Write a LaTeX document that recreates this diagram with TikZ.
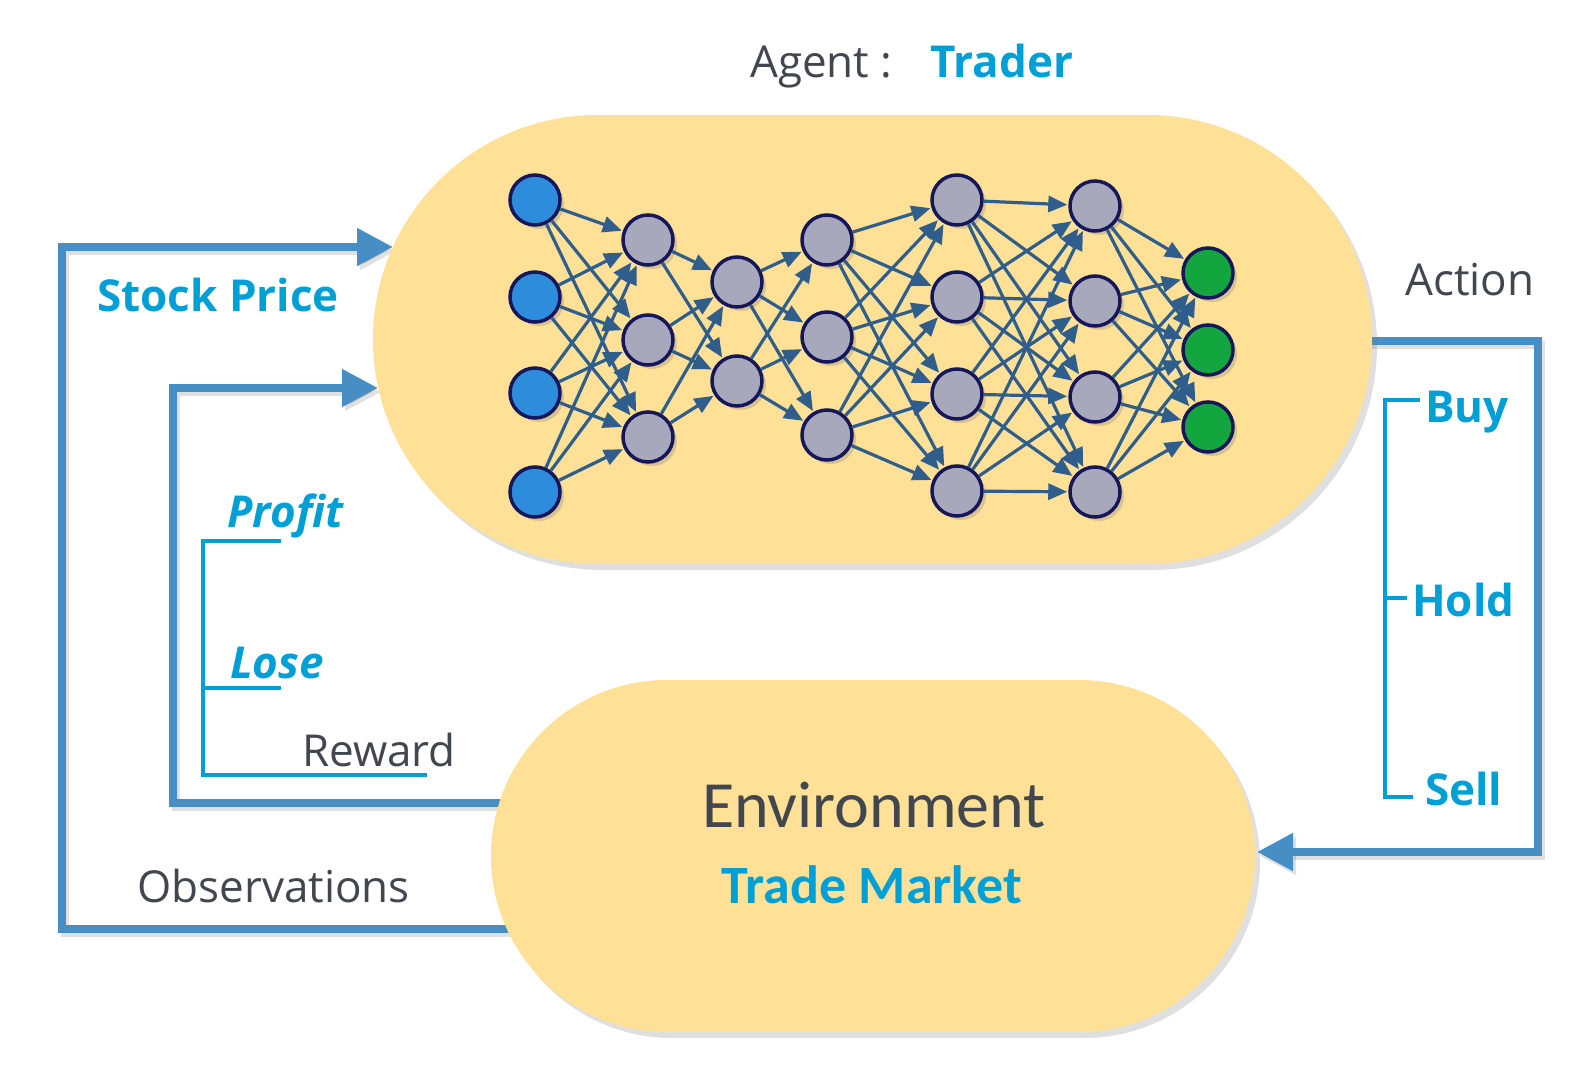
\documentclass[tikz,border=0pt]{standalone}
\usepackage{fontspec}
\setmainfont{Open Sans}
\newfontfamily\calib{Carlito}
\usetikzlibrary{arrows.meta,shadows,shapes.misc}
\definecolor{cyantxt}{RGB}{0,160,214}
\definecolor{graytxt}{RGB}{66,70,78}
\definecolor{arrowblue}{RGB}{70,142,196}
\definecolor{shapefill}{RGB}{254,225,150}
\definecolor{nnline}{RGB}{48,94,140}
\definecolor{nnborder}{RGB}{22,22,90}
\definecolor{nngray}{RGB}{168,168,188}
\definecolor{nnblue}{RGB}{45,140,220}
\definecolor{nngreen}{RGB}{20,166,62}
\tikzset{
  bigshape/.style={rounded rectangle, fill=shapefill, draw=none, inner sep=0,
    drop shadow={shadow xshift=5pt, shadow yshift=-6pt, opacity=0.25}},
  bigarrow/.style={draw=arrowblue, line width=8pt, line join=miter,
    -{Triangle[length=36pt,width=36pt]},
    preaction={draw=black, opacity=0.12, line width=8pt, transform canvas={shift={(3pt,-4pt)}}}},
  bracket/.style={draw=cyantxt, line width=4pt, line join=miter},
  neuron/.style={circle, minimum size=50pt, inner sep=0, line width=3.5pt, draw=nnborder,
    drop shadow={shadow xshift=4pt, shadow yshift=-4pt, opacity=0.3}},
  nnarrow/.style={draw=nnline, line width=3.2pt, -{Triangle[length=19pt,width=16pt]}, shorten >=1pt},
  lbl/.style={inner sep=0, anchor=base west},
  regtxt/.style={lbl, text=graytxt, font=\fontsize{44}{52}\selectfont},
  boldtxt/.style={lbl, text=cyantxt, font=\bfseries\fontsize{44}{52}\selectfont},
  itbtxt/.style={lbl, text=cyantxt, font=\bfseries\itshape\fontsize{44}{52}\selectfont}
}
\begin{document}
\begin{tikzpicture}[x=1pt,y=-1pt]
\useasboundingbox[fill=white] (0,0) rectangle (1590,1078);

% boundary coordinates
\coordinate (agentInA) at (393,247);
\coordinate (agentInB) at (378,388);
\coordinate (agentOut) at (1365,341);
\coordinate (envOutR) at (515,803);
\coordinate (envOutO) at (522,929);
\coordinate (envIn) at (1257,852);
\coordinate (cA) at (62,929);
\coordinate (cB) at (62,247);
\coordinate (cC) at (173,803);
\coordinate (cD) at (173,388);
\coordinate (cE) at (1538,341);
\coordinate (cF) at (1538,852);

% big connectors (under the shapes)
\draw[bigarrow] (envOutO) -- (cA) -- (cB) -- (agentInA);
\draw[bigarrow] (envOutR) -- (cC) -- (cD) -- (agentInB);
\draw[bigarrow] (agentOut) -- (cE) -- (cF) -- (envIn);

% shapes
\node[bigshape, minimum width=999pt, minimum height=449pt] (agent) at (872.5,339.5) {};
\node[bigshape, minimum width=764pt, minimum height=352pt] (env) at (873,856) {};

% environment texts
\node[inner sep=0, anchor=base, text=graytxt, font=\calib\fontsize{66}{70}\selectfont] (envtxt) at (874,827) {Environment};
\node[inner sep=0, anchor=base, text=cyantxt, font=\calib\bfseries\fontsize{54}{58}\selectfont] (market) at (872,903) {Trade Market};

% neural network
\foreach \y [count=\i] in {200,297,393,492} \node[neuron, fill=nnblue] (a\i) at (535,\y) {};
\foreach \y [count=\i] in {240,340,437} \node[neuron, fill=nngray] (b\i) at (648,\y) {};
\foreach \y [count=\i] in {282,381} \node[neuron, fill=nngray] (c\i) at (737,\y) {};
\foreach \y [count=\i] in {240,337,435} \node[neuron, fill=nngray] (d\i) at (827,\y) {};
\foreach \y [count=\i] in {200,297,394,491} \node[neuron, fill=nngray] (e\i) at (957,\y) {};
\foreach \y [count=\i] in {206,301,397,492} \node[neuron, fill=nngray] (f\i) at (1095,\y) {};
\foreach \y [count=\i] in {273,350,427} \node[neuron, fill=nngreen] (g\i) at (1208,\y) {};

\foreach \s in {1,...,4} \foreach \t in {1,...,3} \draw[nnarrow] (a\s) -- (b\t);
\foreach \s in {1,...,3} \foreach \t in {1,2} \draw[nnarrow] (b\s) -- (c\t);
\foreach \s in {1,2} \foreach \t in {1,...,3} \draw[nnarrow] (c\s) -- (d\t);
\foreach \s in {1,...,3} \foreach \t in {1,...,4} \draw[nnarrow] (d\s) -- (e\t);
\foreach \s in {1,...,4} \foreach \t in {1,...,4} \draw[nnarrow] (e\s) -- (f\t);
\foreach \s in {1,...,4} \foreach \t in {1,...,3} \draw[nnarrow] (f\s) -- (g\t);

% labels
\node[regtxt] (agentlbl) at (750,78) {Agent :};
\node[boldtxt] (trader) at (930,78) {Trader};
\node[boldtxt] (stock) at (97,311) {Stock Price};
\node[itbtxt] (profit) at (227,527) {Profit};
\node[itbtxt] (lose) at (230,678) {Lose};
\node[regtxt] (reward) at (302,766) {Reward};
\node[regtxt] (obs) at (137,902) {Observations};
\node[regtxt] (action) at (1405,295) {Action};
\node[boldtxt] (buy) at (1425,422) {Buy};
\node[boldtxt] (hold) at (1412,616) {Hold};
\node[boldtxt] (sell) at (1425,805) {Sell};

% brackets
\draw[bracket] (281,541) -- (203,541) -- (203,775) -- (427,775);
\draw[bracket] (203,688) -- (281,688);
\draw[bracket] (1420,400) -- (1385,400) -- (1385,797) -- (1413,797);
\draw[bracket] (1385,598) -- (1407,598);
\end{tikzpicture}
\end{document}
